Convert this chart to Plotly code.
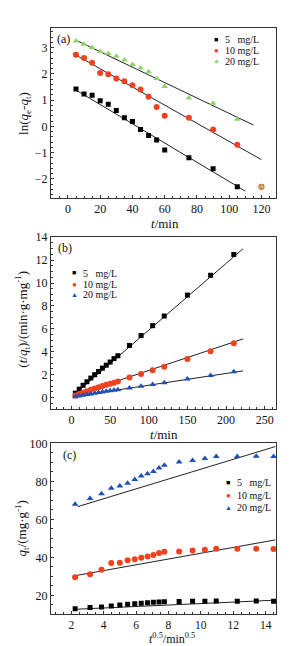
import plotly.graph_objects as go

# ---------------- data ----------------
series_names = ["5\u2007 mg/L", "10 mg/L", "20 mg/L"]

# panel (a): ln(qe-qt) vs t
t_a = [5, 10, 15, 20, 25, 30, 35, 40, 45, 50, 55, 60, 75, 90, 105]
a_5 = [1.42, 1.23, 1.18, 0.97, 0.84, 0.60, 0.33, 0.18, -0.12, -0.35, -0.52, -0.90, -1.20, -1.62, -2.30]
a_10 = [2.73, 2.60, 2.42, 2.03, 1.98, 1.82, 1.72, 1.56, 1.40, 1.13, 0.74, 0.40, 0.33, -0.12, -0.70]
a_20 = [3.25, 3.13, 3.00, 2.85, 2.77, 2.67, 2.53, 2.35, 2.22, 2.08, 1.82, 1.52, 1.08, 0.88, 0.27]
a_extra_t = [120]
a_extra_10 = [-2.30]
a_extra_20 = [-2.30]
fit_a_5_x = [5, 110]; fit_a_5_y = [1.38, -2.47]
fit_a_10_x = [3, 120]; fit_a_10_y = [2.78, -1.27]
fit_a_20_x = [5, 115]; fit_a_20_y = [3.28, 0.05]

# panel (b): t/qt vs t
t_b = [5, 10, 15, 20, 25, 30, 35, 40, 45, 50, 55, 60, 75, 90, 105, 120, 150, 180, 210]
b_5 = [0.38, 0.73, 1.07, 1.38, 1.70, 2.00, 2.27, 2.57, 2.83, 3.10, 3.40, 3.65, 4.55, 5.42, 6.28, 7.12, 8.95, 10.68, 12.50]
b_10 = [0.17, 0.32, 0.45, 0.54, 0.67, 0.78, 0.90, 1.00, 1.11, 1.21, 1.30, 1.40, 1.74, 2.06, 2.39, 2.70, 3.37, 4.05, 4.74]
b_20 = [0.07, 0.14, 0.20, 0.26, 0.32, 0.38, 0.43, 0.48, 0.54, 0.59, 0.63, 0.68, 0.83, 0.99, 1.14, 1.29, 1.61, 1.93, 2.26]
fit_b_5_x = [5, 222]; fit_b_5_y = [0.35, 13.0]
fit_b_10_x = [5, 222]; fit_b_10_y = [0.22, 5.12]
fit_b_20_x = [5, 222]; fit_b_20_y = [0.10, 2.33]

# panel (c): qt vs t^0.5
x_c = [2.24, 3.16, 3.87, 4.47, 5.00, 5.48, 5.92, 6.32, 6.71, 7.07, 7.42, 7.75, 8.66, 9.49, 10.25, 10.95, 12.25, 13.42, 14.49]
c_5 = [13.0, 13.7, 13.9, 14.5, 14.9, 15.3, 15.6, 15.9, 16.2, 16.4, 16.5, 16.7, 16.8, 16.9, 17.0, 17.1, 17.0, 17.1, 17.0]
c_10 = [29.5, 31.2, 33.5, 37.0, 37.2, 38.5, 39.0, 39.8, 40.5, 41.3, 42.3, 43.0, 43.1, 43.6, 44.0, 44.5, 44.6, 44.5, 44.4]
c_20 = [68.0, 71.0, 73.5, 76.3, 77.5, 79.0, 81.0, 82.8, 84.0, 85.2, 87.0, 88.5, 90.2, 91.0, 92.0, 93.0, 93.0, 93.2, 93.0]
fit_c_5_x = [2.2, 14.6]; fit_c_5_y = [12.7, 17.5]
fit_c_10_x = [2.2, 14.6]; fit_c_10_y = [30.3, 49.2]
fit_c_20_x = [2.4, 14.6]; fit_c_20_y = [66.7, 98.3]

# ---------------- style ----------------
FONT = "Liberation Serif, Times New Roman, serif"
BLACK = "#000000"
RED = "#f2411f"
GREEN = "#8fd36b"
BLUE = "#1f4fb4"
LINE = "#222222"
TXT = "#111111"

fig = go.Figure()

def mk(x, y, sym, col, name, xa, ya, size=5):
    fig.add_trace(go.Scatter(x=x, y=y, mode="markers", name=name,
                             marker=dict(symbol=sym, color=col, size=size, line=dict(width=0)),
                             xaxis=xa, yaxis=ya, showlegend=False))

def ln(x, y, xa, ya):
    fig.add_trace(go.Scatter(x=x, y=y, mode="lines", line=dict(color=LINE, width=1),
                             xaxis=xa, yaxis=ya, showlegend=False, hoverinfo="skip"))

# panel a
ln(fit_a_5_x, fit_a_5_y, "x", "y")
ln(fit_a_10_x, fit_a_10_y, "x", "y")
ln(fit_a_20_x, fit_a_20_y, "x", "y")
mk(t_a, a_5, "square", BLACK, series_names[0], "x", "y")
mk(t_a, a_10, "circle", RED, series_names[1], "x", "y", size=6)
mk(t_a, a_20, "triangle-up", GREEN, series_names[2], "x", "y", size=6)
mk(a_extra_t, a_extra_10, "circle", RED, series_names[1], "x", "y", size=6)
mk(a_extra_t, a_extra_20, "triangle-up", GREEN, series_names[2], "x", "y", size=6)

# panel b
ln(fit_b_5_x, fit_b_5_y, "x2", "y2")
ln(fit_b_10_x, fit_b_10_y, "x2", "y2")
ln(fit_b_20_x, fit_b_20_y, "x2", "y2")
mk(t_b, b_5, "square", BLACK, series_names[0], "x2", "y2")
mk(t_b, b_10, "circle", RED, series_names[1], "x2", "y2", size=6)
mk(t_b, b_20, "triangle-up", BLUE, series_names[2], "x2", "y2", size=6)

# panel c
ln(fit_c_5_x, fit_c_5_y, "x3", "y3")
ln(fit_c_10_x, fit_c_10_y, "x3", "y3")
ln(fit_c_20_x, fit_c_20_y, "x3", "y3")
mk(x_c, c_5, "square", BLACK, series_names[0], "x3", "y3")
mk(x_c, c_10, "circle", RED, series_names[1], "x3", "y3", size=6)
mk(x_c, c_20, "triangle-up", BLUE, series_names[2], "x3", "y3", size=6)

W, H = 293, 646
xdom = [43 / W, 268 / W]
def ydom(top, bot):
    return [1 - bot / H, 1 - top / H]

def axis(dom, rng, dtick, anchor, fs=12):
    return dict(domain=dom, range=rng, dtick=dtick, anchor=anchor, showgrid=False, zeroline=False,
                showline=True, linecolor="#333333", linewidth=1, mirror=True,
                ticks="inside", ticklen=3, tickcolor="#333333",
                minor=dict(ticks="inside", ticklen=2, tickcolor="#333333"),
                tickfont=dict(family=FONT, size=fs, color=TXT))

fig.update_layout(
    width=W, height=H, margin=dict(l=0, r=0, t=0, b=0),
    paper_bgcolor="white", plot_bgcolor="white",
    font=dict(family=FONT, size=12, color=TXT),
    showlegend=False,
    xaxis=axis(xdom, [-10.5, 129], 20, "y"),
    yaxis=axis(ydom(13, 185), [-2.73, 3.75], 1, "x"),
    xaxis2=axis(xdom, [-26.5, 264.6], 50, "y2"),
    yaxis2=axis(ydom(224.7, 398.3), [-1, 14], 2, "x2"),
    xaxis3=axis(xdom, [0.75, 14.64], 2, "y3", fs=11.5),
    yaxis3=axis(ydom(433, 606), [10, 100], 20, "x3"),
)

def ann(text, x, y, angle=0, size=12, color=TXT, xanchor="center"):
    fig.add_annotation(text=text, x=x / W, y=1 - y / H, xref="paper", yref="paper",
                       showarrow=False, textangle=angle, xanchor=xanchor, yanchor="middle",
                       font=dict(family=FONT, size=size, color=color))

# legends (drawn as text rows)
def legend(x_sym, x_txt, rows, third_col):
    syms = [("\u25A0", BLACK, 7), ("\u25CF", RED, 8), ("\u25B2", third_col, 7)]
    for (g, col, s), name, y in zip(syms, series_names, rows):
        ann(g, x_sym, y, size=s, color=col)
        ann(name, x_txt, y, size=10, xanchor="left")

legend(208, 215, [25, 36, 47], GREEN)
legend(66, 73, [261, 272, 283], BLUE)
legend(220, 227, [473, 486, 498], BLUE)

# panel labels
ann("(a)", 55, 24)
ann("(b)", 57, 236)
ann("(c)", 61, 445)
# x titles
ann("<i>t</i>/min", 157, 211, size=13)
ann("<i>t</i>/min", 156, 424, size=13)
ann("<i>t</i><sup>0.5</sup>/min<sup>0.5</sup>", 164, 630, size=12)
# y titles
ann("ln(<i>q</i><sub>e</sub>-<i>q</i><sub>t</sub>)", 17, 100, angle=-90, size=13)
ann("(<i>t</i>/<i>q</i><sub>t</sub>)/(min·g·mg<sup>-1</sup>)", 14, 308, angle=-90, size=13)
ann("<i>q</i><sub>t</sub>/(mg·g<sup>-1</sup>)", 14, 519, angle=-90, size=13)

fig.write_html("out.html")
